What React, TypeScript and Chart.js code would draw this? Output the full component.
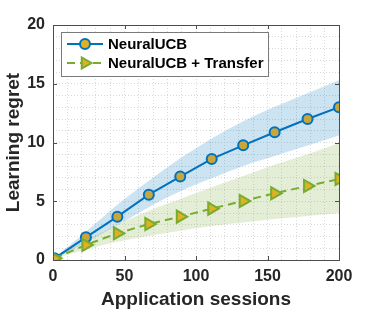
import React, { useEffect, useRef } from "react";
import { Chart, registerables } from "chart.js";

Chart.register(...registerables);

const sessions = [1, 23, 45, 67, 89, 111, 133, 155, 178, 200];
const neuralUcb = [0.14, 1.93, 3.69, 5.56, 7.1, 8.6, 9.76, 10.87, 12.0, 13.0];
const neuralUcbUpper = [0.2, 2.4, 4.7, 6.75, 8.65, 10.35, 11.8, 13.05, 14.2, 15.3];
const neuralUcbLower = [0.1, 1.5, 2.95, 4.5, 5.85, 6.95, 8.0, 8.85, 9.75, 10.6];
const transfer = [0.14, 1.28, 2.27, 3.06, 3.69, 4.37, 5.02, 5.68, 6.3, 6.89];
const transferUpper = [0.2, 1.65, 3.0, 4.2, 5.2, 6.2, 7.15, 8.1, 9.0, 9.95];
const transferLower = [0.1, 0.9, 1.55, 2.05, 2.5, 2.9, 3.2, 3.5, 3.75, 4.0];
const xTicks = [0, 50, 100, 150, 200];
const yTicks = [0, 5, 10, 15, 20];
const seriesNames = ["NeuralUCB", "NeuralUCB + Transfer"];

const BLUE = "#0072BD";
const GREEN = "#77AC30";
const GOLD_DARK = "#C9A63A";
const GOLD = "#E2B022";
const FONT = "'Liberation Sans', Arial, Helvetica, sans-serif";
const TEXT = "#262626";

const pts = (ys: number[]) => sessions.map((x, i) => ({ x, y: ys[i] }));

const framePlugin = {
  id: "frame",
  afterDraw(chart: any) {
    const { ctx, chartArea: a, scales } = chart;
    ctx.save();
    ctx.strokeStyle = "#4d4d4d";
    ctx.lineWidth = 1;
    ctx.strokeRect(Math.round(a.left) + 0.5, Math.round(a.top) + 0.5, Math.round(a.right - a.left), Math.round(a.bottom - a.top));
    const tl = 4;
    ctx.beginPath();
    xTicks.forEach((v) => {
      const px = Math.round(scales.x.getPixelForValue(v)) + 0.5;
      ctx.moveTo(px, a.bottom);
      ctx.lineTo(px, a.bottom - tl);
      ctx.moveTo(px, a.top);
      ctx.lineTo(px, a.top + tl);
    });
    yTicks.forEach((v) => {
      const py = Math.round(scales.y.getPixelForValue(v)) + 0.5;
      ctx.moveTo(a.left, py);
      ctx.lineTo(a.left + tl, py);
      ctx.moveTo(a.right, py);
      ctx.lineTo(a.right - tl, py);
    });
    ctx.stroke();

    // legend
    const lx = 61.5, ly = 32.5, lw = 207, lh = 44;
    ctx.fillStyle = "#ffffff";
    ctx.fillRect(lx, ly, lw, lh);
    ctx.strokeStyle = "#7a7a7a";
    ctx.strokeRect(lx, ly, lw, lh);
    const rows = [44, 63];
    ctx.strokeStyle = BLUE;
    ctx.lineWidth = 2;
    ctx.setLineDash([]);
    ctx.beginPath();
    ctx.moveTo(67, rows[0]);
    ctx.lineTo(103, rows[0]);
    ctx.stroke();
    ctx.beginPath();
    ctx.arc(85, rows[0], 5, 0, Math.PI * 2);
    ctx.fillStyle = GOLD;
    ctx.fill();
    ctx.stroke();
    ctx.strokeStyle = GREEN;
    ctx.setLineDash([8, 5]);
    ctx.beginPath();
    ctx.moveTo(67, rows[1]);
    ctx.lineTo(103, rows[1]);
    ctx.stroke();
    ctx.setLineDash([]);
    ctx.beginPath();
    const r = 6.5;
    ctx.moveTo(85 + r, rows[1]);
    ctx.lineTo(85 - r * 0.5, rows[1] - r * 0.866);
    ctx.lineTo(85 - r * 0.5, rows[1] + r * 0.866);
    ctx.closePath();
    ctx.fillStyle = GOLD;
    ctx.fill();
    ctx.stroke();
    ctx.fillStyle = "#000";
    ctx.font = `bold 15px ${FONT}`;
    ctx.textBaseline = "middle";
    ctx.textAlign = "left";
    ctx.fillText(seriesNames[0], 108, rows[0] + 1);
    ctx.fillText(seriesNames[1], 108, rows[1] + 1);
    ctx.restore();
  },
};

const band = (ys: number[], fill: any, color: string, order: number, label: string) => ({
  label,
  data: pts(ys),
  borderWidth: 0,
  pointRadius: 0,
  fill,
  backgroundColor: color,
  cubicInterpolationMode: "monotone",
  order,
});

export default function App() {
  const ref = useRef<HTMLCanvasElement>(null);
  useEffect(() => {
    if (!ref.current) return;
    const chart = new Chart(ref.current, {
      type: "line",
      data: {
        datasets: [
          {
            label: seriesNames[0],
            data: pts(neuralUcb),
            borderColor: BLUE,
            borderWidth: 2,
            pointStyle: "circle",
            pointRadius: 5,
            pointBorderWidth: 2,
            pointBorderColor: BLUE,
            pointBackgroundColor: GOLD_DARK,
            fill: false,
            order: 1,
          },
          {
            label: seriesNames[1],
            data: pts(transfer),
            borderColor: GREEN,
            borderWidth: 2,
            borderDash: [8, 5],
            pointStyle: "triangle",
            rotation: 90,
            pointRadius: 7,
            pointBorderWidth: 2,
            pointBorderColor: GREEN,
            pointBackgroundColor: GOLD,
            fill: false,
            order: 0,
          },
          band(neuralUcbUpper, "+1", "rgba(0,114,189,0.2)", 3, "ucb-upper"),
          band(neuralUcbLower, false, "transparent", 3, "ucb-lower"),
          band(transferUpper, "+1", "rgba(119,172,48,0.2)", 2, "tr-upper"),
          band(transferLower, false, "transparent", 2, "tr-lower"),
        ],
      },
      options: {
        animation: false,
        responsive: false,
        layout: { padding: { left: 0, top: 25, right: 35, bottom: 0 } },
        plugins: { legend: { display: false }, tooltip: { enabled: false } },
        scales: {
          x: {
            type: "linear",
            min: 0,
            max: 200,
            afterFit: (s: any) => { s.height = 52; },
            ticks: {
              stepSize: 10,
              autoSkip: false,
              maxRotation: 0,
              padding: 7,
              color: TEXT,
              font: { family: FONT, size: 16, weight: "bold" },
              callback: (v: any) => (xTicks.includes(Number(v)) ? String(v) : ""),
            },
            grid: { color: "#d9d9d9", lineWidth: 1, drawTicks: false },
            border: { display: false, dash: [1, 2] },
            title: {
              display: true,
              text: "Application sessions",
              color: TEXT,
              font: { family: FONT, size: 19, weight: "bold" },
              padding: { top: 0, bottom: 1 },
            },
          },
          y: {
            min: 0,
            max: 20,
            afterFit: (s: any) => { s.width = 53; },
            ticks: {
              stepSize: 1,
              autoSkip: false,
              padding: 8,
              color: TEXT,
              font: { family: FONT, size: 16, weight: "bold" },
              callback: (v: any) => (yTicks.includes(Number(v)) ? String(v) : ""),
            },
            grid: { color: "#d9d9d9", lineWidth: 1, drawTicks: false },
            border: { display: false, dash: [1, 2] },
            title: {
              display: true,
              text: "Learning regret",
              color: TEXT,
              font: { family: FONT, size: 19, weight: "bold" },
              padding: { top: 2, bottom: 0 },
            },
          },
        },
      },
      plugins: [framePlugin],
    } as any);
    return () => chart.destroy();
  }, []);
  return (
    <div style={{ position: "fixed", left: 0, top: 0, width: 374, height: 312, background: "#fff" }}>
      <canvas ref={ref} width={374} height={312} style={{ width: 374, height: 312 }} />
    </div>
  );
}
